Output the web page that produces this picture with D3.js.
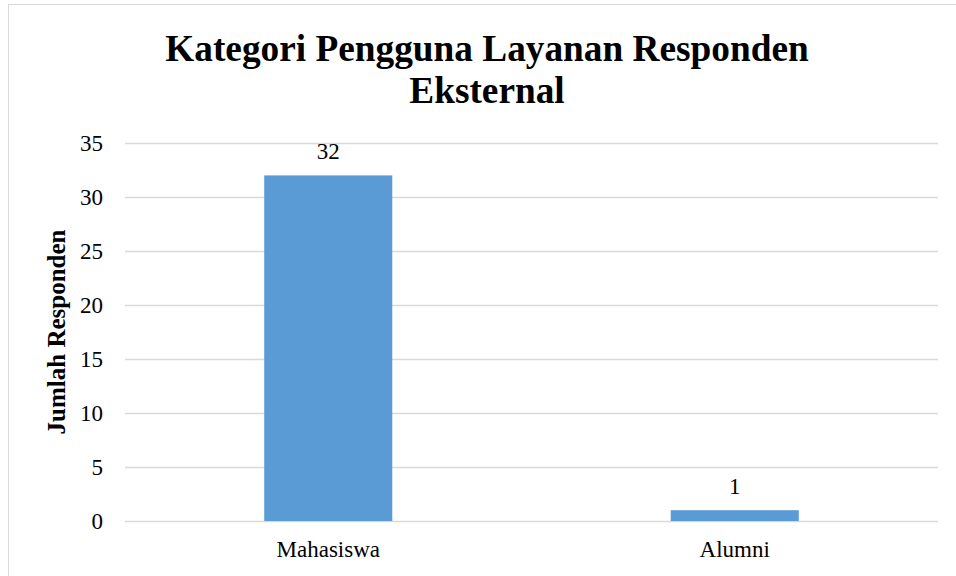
<!DOCTYPE html>
<html><head><meta charset="utf-8">
<script src="https://cdn.jsdelivr.net/npm/d3@7"></script>
<style>body{margin:0;background:#fff}svg{display:block}</style>
</head><body>
<svg id="c" width="956" height="576"></svg>
<script>
const categories = ["Mahasiswa", "Alumni"];
const values = [32, 1];
const yTicks = [0, 5, 10, 15, 20, 25, 30, 35];
const titleLines = ["Kategori Pengguna Layanan Responden", "Eksternal"];
const yTitle = "Jumlah Responden";

(function () {
const svg = d3.select("#c");
const font = "'Liberation Serif','Times New Roman',serif";
const pl = 125, pr = 938, pt = 143, pb = 521;

svg.append("rect").attr("x", 8.5).attr("y", 4.5).attr("width", 1000).attr("height", 1000)
  .attr("fill", "#fff").attr("stroke", "#d9d9d9").attr("stroke-width", 1);

const x = d3.scaleBand().domain(categories).range([pl, pr]).paddingInner(0.685).paddingOuter(0.3425);
const y = d3.scaleLinear().domain([0, 35]).range([pb, pt]);

const yAxis = d3.axisLeft(y).tickValues(yTicks).tickSize(-(pr - pl)).tickPadding(22);
const gy = svg.append("g").attr("transform", `translate(${pl},0)`).call(yAxis);
gy.select(".domain").remove();
gy.selectAll(".tick line").attr("stroke", "#d9d9d9").attr("stroke-width", 1.5);
gy.selectAll(".tick text").attr("font-family", font).attr("font-size", 23).attr("fill", "#000");

const xAxis = d3.axisBottom(x).tickSize(0).tickPadding(20);
const gx = svg.append("g").attr("transform", `translate(0,${pb})`).call(xAxis);
gx.select(".domain").remove();
gx.selectAll(".tick text").attr("font-family", font).attr("font-size", 23).attr("fill", "#000");

svg.append("g").selectAll("rect").data(values).join("rect")
  .attr("x", (d, i) => x(categories[i]))
  .attr("width", x.bandwidth())
  .attr("y", d => y(d))
  .attr("height", d => y(0) - y(d))
  .attr("fill", "#5b9bd5");

svg.append("g").selectAll("text").data(values).join("text")
  .attr("x", (d, i) => x(categories[i]) + x.bandwidth() / 2)
  .attr("y", d => y(d) - 16)
  .attr("text-anchor", "middle")
  .attr("font-family", font).attr("font-size", 23).attr("fill", "#000")
  .text(d => d);

svg.append("text").attr("text-anchor", "middle").attr("font-family", font)
  .attr("font-weight", "bold").attr("font-size", 37.3).attr("fill", "#000")
  .selectAll("tspan").data(titleLines).join("tspan")
  .attr("x", 487).attr("y", (d, i) => 61 + i * 42).text(d => d);

svg.append("text").attr("transform", "translate(65,332) rotate(-90)")
  .attr("text-anchor", "middle").attr("font-family", font)
  .attr("font-weight", "bold").attr("font-size", 25).attr("fill", "#000")
  .text(yTitle);
})();
</script>
</body></html>
